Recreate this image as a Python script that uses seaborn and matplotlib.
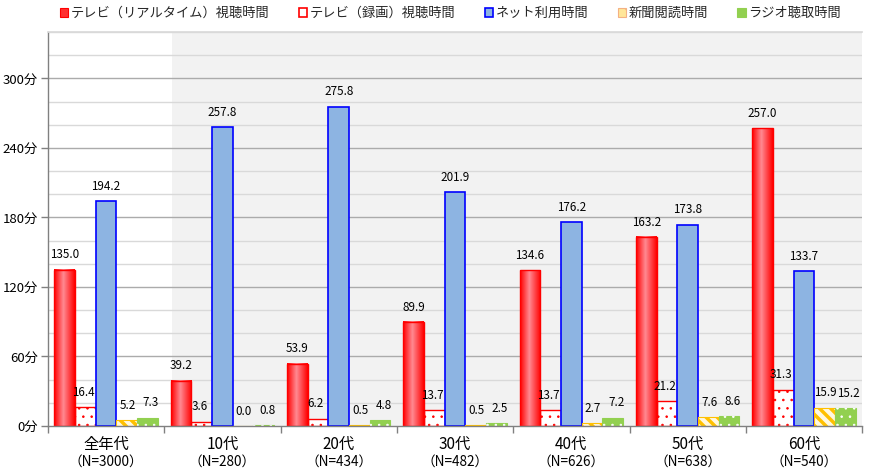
import numpy as np
import pandas as pd
import matplotlib
matplotlib.use("Agg")
import matplotlib.pyplot as plt
import matplotlib.transforms as mtransforms
import seaborn as sns
from matplotlib.patches import Patch, Rectangle
from matplotlib.colors import LinearSegmentedColormap

categories = ["全年代", "10代", "20代", "30代", "40代", "50代", "60代"]
sample_sizes = ["（N=3000）", "（N=280）", "（N=434）", "（N=482）", "（N=626）", "（N=638）", "（N=540）"]
series_names = ["テレビ（リアルタイム）視聴時間", "テレビ（録画）視聴時間", "ネット利用時間", "新聞閲読時間", "ラジオ聴取時間"]
tv_realtime = [135.0, 39.2, 53.9, 89.9, 134.6, 163.2, 257.0]
tv_recorded = [16.4, 3.6, 6.2, 13.7, 13.7, 21.2, 31.3]
internet = [194.2, 257.8, 275.8, 201.9, 176.2, 173.8, 133.7]
newspaper = [5.2, 0.0, 0.5, 0.5, 2.7, 7.6, 15.9]
radio = [7.3, 0.8, 4.8, 2.5, 7.2, 8.6, 15.2]
y_ticks = [0, 60, 120, 180, 240, 300]
y_tick_labels = ["0分", "60分", "120分", "180分", "240分", "300分"]

series_values = [tv_realtime, tv_recorded, internet, newspaper, radio]
rows = []
for name, vals in zip(series_names, series_values):
    for c, v in zip(categories, vals):
        rows.append({"category": c, "series": name, "value": v})
df = pd.DataFrame(rows)

sns.set_theme(style="white")
plt.rcParams["font.family"] = ["Noto Sans CJK JP", "DejaVu Sans"]

fig = plt.figure(figsize=(8.7, 4.73), dpi=100)
ax = fig.add_axes([0.055, 0.0994, 0.936, 0.8326])

sns.barplot(data=df, x="category", y="value", hue="series", order=categories,
            hue_order=series_names, width=0.89, ax=ax, legend=False,
            palette=["#FF0000", "#FFFFFF", "#8DB4E2", "#FFFFFF", "#92D050"],
            saturation=1, zorder=2)

ax.set_ylim(0, 340)
ax.set_xlim(-0.5, 6.5)

# shaded background for age groups
ax.axvspan(0.566, 6.5, color="#F2F2F2", zorder=0.1, lw=0)

# gridlines
for yv in range(20, 341, 20):
    col = "#ABABAB" if yv % 60 == 0 else "#D9D9D9"
    ax.axhline(yv, color=col, lw=1.0, zorder=0.5)

cmap = LinearSegmentedColormap.from_list("redgrad", [(0, "#FF0000"), (0.45, "#FF8A92"), (1, "#FF0000")])
grad = np.linspace(0, 1, 64).reshape(1, -1)

conts = ax.containers
# realtime TV: gradient red
for bar in conts[0]:
    x0, y0, w, h = bar.get_x(), bar.get_y(), bar.get_width(), bar.get_height()
    ax.imshow(grad, extent=[x0, x0 + w, y0, y0 + h], aspect="auto", cmap=cmap, zorder=2.1, interpolation="bilinear")
    bar.set_facecolor("none")
    bar.set_edgecolor("#FF0000")
    bar.set_linewidth(1.0)
    bar.set_zorder(2.2)

def set_hlw(p, lw):
    if hasattr(p, "set_hatch_linewidth"):
        p.set_hatch_linewidth(lw)

# recorded TV: white with red dots
for bar in conts[1]:
    bar.set_facecolor("white")
    bar.set_edgecolor("#FF0000")
    bar.set_linewidth(1.0)
    bar.set_hatch("..")
    set_hlw(bar, 0.6)

# internet: blue
for bar in conts[2]:
    bar.set_edgecolor("#0000FF")
    bar.set_linewidth(1.2)

# newspaper: orange-yellow diagonal stripes
for bar in conts[3]:
    bar.set_facecolor("#FFF8E0")
    bar.set_edgecolor("#FFC000")
    bar.set_linewidth(0.8)
    bar.set_hatch("\\\\\\")
    set_hlw(bar, 2.5)

# radio: green with white dots
for bar in conts[4]:
    bar.set_edgecolor("#92D050")
    bar.set_linewidth(0.8)
    x0, y0, w, h = bar.get_x(), bar.get_y(), bar.get_width(), bar.get_height()
    r = Rectangle((x0, y0), w, h, facecolor="none", edgecolor="white", lw=0, hatch="..", zorder=2.3)
    set_hlw(r, 0.6)
    ax.add_patch(r)

# value labels (small horizontal nudges as in the reference)
label_dx = [0.0, -1.5, 0.0, 0.5, 2.5]
for cont, dx in zip(conts, label_dx):
    for bar in cont:
        h = bar.get_height()
        ax.annotate(f"{h:.1f}", (bar.get_x() + bar.get_width() / 2, h),
                    xytext=(dx, 6), textcoords="offset points", ha="center", va="bottom",
                    fontsize=8.4, color="#000000", zorder=5)

ax.set_xlim(-0.5, 6.5)
ax.set_ylim(0, 340)

# axes styling
ax.set_xlabel("")
ax.set_ylabel("")
ax.set_yticks(y_ticks)
ax.set_yticklabels(y_tick_labels, fontsize=9.5)
ax.set_xticks(range(len(categories)))
ax.set_xticklabels(categories, fontsize=11)
ax.set_xticks(np.arange(-0.5, 6.6, 1.0), minor=True)
ax.tick_params(axis="x", which="major", length=0, pad=7)
ax.tick_params(axis="x", which="minor", length=5, width=1, color="#808080", direction="out", bottom=True)
ax.tick_params(axis="y", which="major", length=5, width=1, color="#808080", direction="out", left=True, pad=2)
for s in ["left", "bottom"]:
    ax.spines[s].set_color("#808080")
    ax.spines[s].set_linewidth(1.0)
ax.spines["top"].set_color("#D9D9D9")
ax.spines["right"].set_visible(False)
for lab in ax.get_yticklabels():
    lab.set_color("#000000")
for lab in ax.get_xticklabels():
    lab.set_color("#000000")

# second line of category labels (sample size)
trans = mtransforms.blended_transform_factory(ax.transData, fig.transFigure)
for i, n in enumerate(sample_sizes):
    ax.text(i, 1 - 462 / 473, n, transform=trans, ha="center", va="center", fontsize=9.8, color="#000000")

# legend
handles = [
    Patch(facecolor="#FF3030", edgecolor="#FF0000", lw=0.8),
    Patch(facecolor="white", edgecolor="#FF0000", lw=1.2),
    Patch(facecolor="#8DB4E2", edgecolor="#0000FF", lw=1.2),
    Patch(facecolor="#FFE699", edgecolor="#F4B183", lw=0.8, hatch="\\\\"),
    Patch(facecolor="#92D050", edgecolor="#92D050", lw=0.8),
]
fig.legend(handles, series_names, loc="upper left", bbox_to_anchor=(0.058, 1.005), ncol=5,
           frameon=False, fontsize=9.5, handlelength=0.65, handleheight=0.65, handletextpad=0.2,
           columnspacing=2.2, borderaxespad=0.3)

fig.savefig("out.png", dpi=100)
